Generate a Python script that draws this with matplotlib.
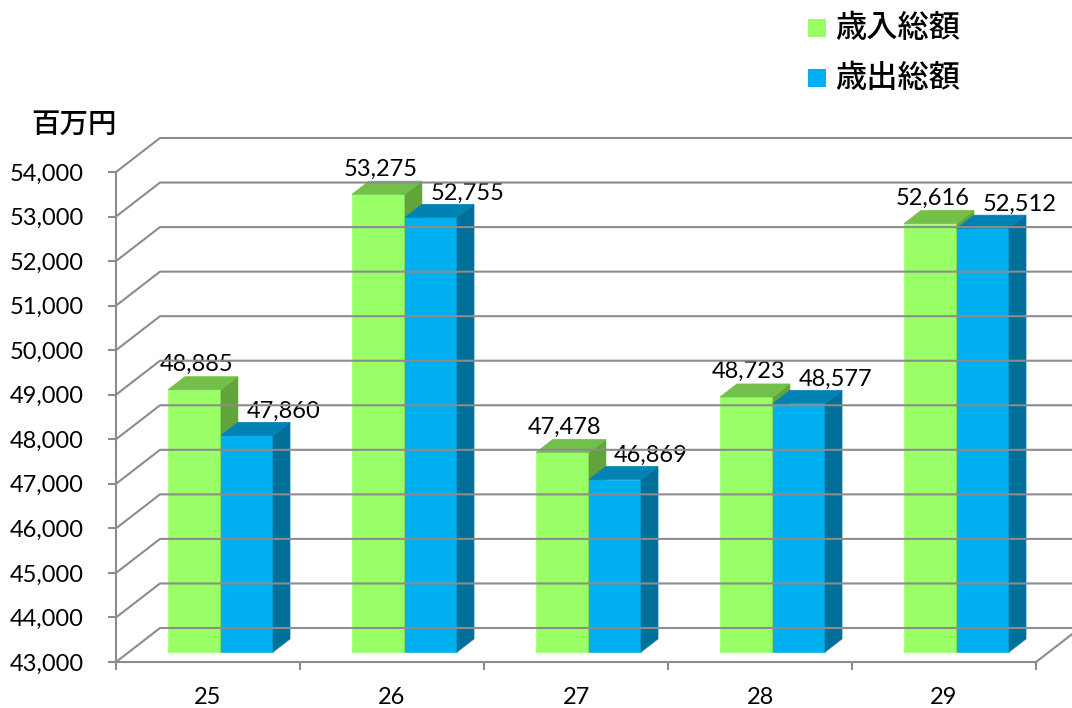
import numpy as np
import matplotlib
matplotlib.use("Agg")
import matplotlib.pyplot as plt
from matplotlib.patches import Polygon, Rectangle
from matplotlib.lines import Line2D
from matplotlib.transforms import IdentityTransform

# 年度別 歳入・歳出（百万円）
years = ["25", "26", "27", "28", "29"]
revenue = [48885, 53275, 47478, 48723, 52616]
expenditure = [47860, 52755, 46869, 48577, 52512]
series_names = ["歳入総額", "歳出総額"]
y_ticks = list(range(43000, 55000, 1000))
unit_label = "百万円"

# colours: front, side, top
green = ("#99FF66", "#62A33C", "#72BF4A")
blue = ("#00B0F0", "#006F99", "#0083B4")
grid_col = "#8C8C8C"

plt.rcParams["font.family"] = ["Lato", "Noto Sans CJK JP", "DejaVu Sans"]

W, H = 1072, 708
fig = plt.figure(figsize=(W / 100, H / 100), dpi=100)
ax = fig.add_axes([116 / W, 46 / H, 920 / W, 490 / H])
ax.set_xlim(0, len(years))
ax.set_ylim(y_ticks[0], y_ticks[-1])

# oblique depth of the chart box, in pixels
DEPTH = np.array([44.0, 34.0])
base = y_ticks[0]


def proj(x, y, d):
    return ax.transData.transform((x, y)) + d * DEPTH


def line3d(pts, **kw):
    xy = np.array([proj(*p) for p in pts])
    fig.add_artist(Line2D(xy[:, 0], xy[:, 1], transform=IdentityTransform(),
                          color=grid_col, lw=1.5, solid_capstyle="butt", **kw))


n = len(years)
# side wall + back wall gridlines
for v in y_ticks:
    line3d([(0, v, 0), (0, v, 1), (n, v, 1)])
# floor right edge
line3d([(n, base, 0), (n, base, 1)])

for s in ["top", "right"]:
    ax.spines[s].set_visible(False)
for s in ["left", "bottom"]:
    ax.spines[s].set_color(grid_col)
    ax.spines[s].set_linewidth(1.5)
ax.patch.set_alpha(0)

fs = 17
ax.set_yticks(y_ticks)
ax.set_yticklabels([f"{v:,}" for v in y_ticks], fontsize=fs)
ax.tick_params(axis="y", length=6, width=1.5, color=grid_col, pad=17)
ax.set_xticks(np.arange(n) + 0.5)
ax.set_xticklabels(years, fontsize=fs)
ax.set_xticks(np.arange(n + 1), minor=True)
ax.tick_params(axis="x", which="major", length=0, pad=18)
ax.tick_params(axis="x", which="minor", length=6, width=1.5, color=grid_col)

d0, d1 = 0.295, 0.68


def bar3d(x0, x1, top, cols):
    front = [proj(x0, base, d0), proj(x1, base, d0), proj(x1, top, d0), proj(x0, top, d0)]
    side = [proj(x1, base, d0), proj(x1, base, d1), proj(x1, top, d1), proj(x1, top, d0)]
    lid = [proj(x0, top, d0), proj(x1, top, d0), proj(x1, top, d1), proj(x0, top, d1)]
    for face, c in zip((front, side, lid), cols):
        fig.add_artist(Polygon(face, closed=True, transform=IdentityTransform(),
                               facecolor=c, edgecolor=c, lw=0.5))


off = d0 * DEPTH * 0.72  # pixel depth offset in points
for i in range(n):
    g0, g1, b1 = i + 0.212, i + 0.5, i + 0.783
    bar3d(g0, g1, revenue[i], green)
    bar3d(g1, b1, expenditure[i], blue)
    ax.annotate(f"{revenue[i]:,}", xy=((g0 + g1) / 2, revenue[i]),
                xytext=(off[0] + 1.5, off[1] + 13.5), textcoords="offset points",
                ha="center", va="baseline", fontsize=fs, annotation_clip=False)
    ax.annotate(f"{expenditure[i]:,}", xy=((g1 + b1) / 2, expenditure[i]),
                xytext=(off[0] + 26, off[1] + 12.5), textcoords="offset points",
                ha="center", va="baseline", fontsize=fs, annotation_clip=False)

# unit label
fig.text(31 / W, 1 - 124.5 / H, unit_label, fontsize=20.5, va="center", weight="medium",
         family=["Noto Sans CJK JP", "DejaVu Sans"])

# legend
for k, (name, c) in enumerate(zip(series_names, (green[0], blue[0]))):
    yc = 28 + k * 50
    fig.add_artist(Rectangle((808 / W, 1 - (yc + 9) / H), 18 / W, 18 / H,
                             transform=fig.transFigure, facecolor=c, edgecolor="none"))
    fig.text(835 / W, 1 - yc / H, name, fontsize=22.5, va="center", weight="medium",
             family=["Noto Sans CJK JP", "DejaVu Sans"])

fig.savefig("out.png", dpi=100)
